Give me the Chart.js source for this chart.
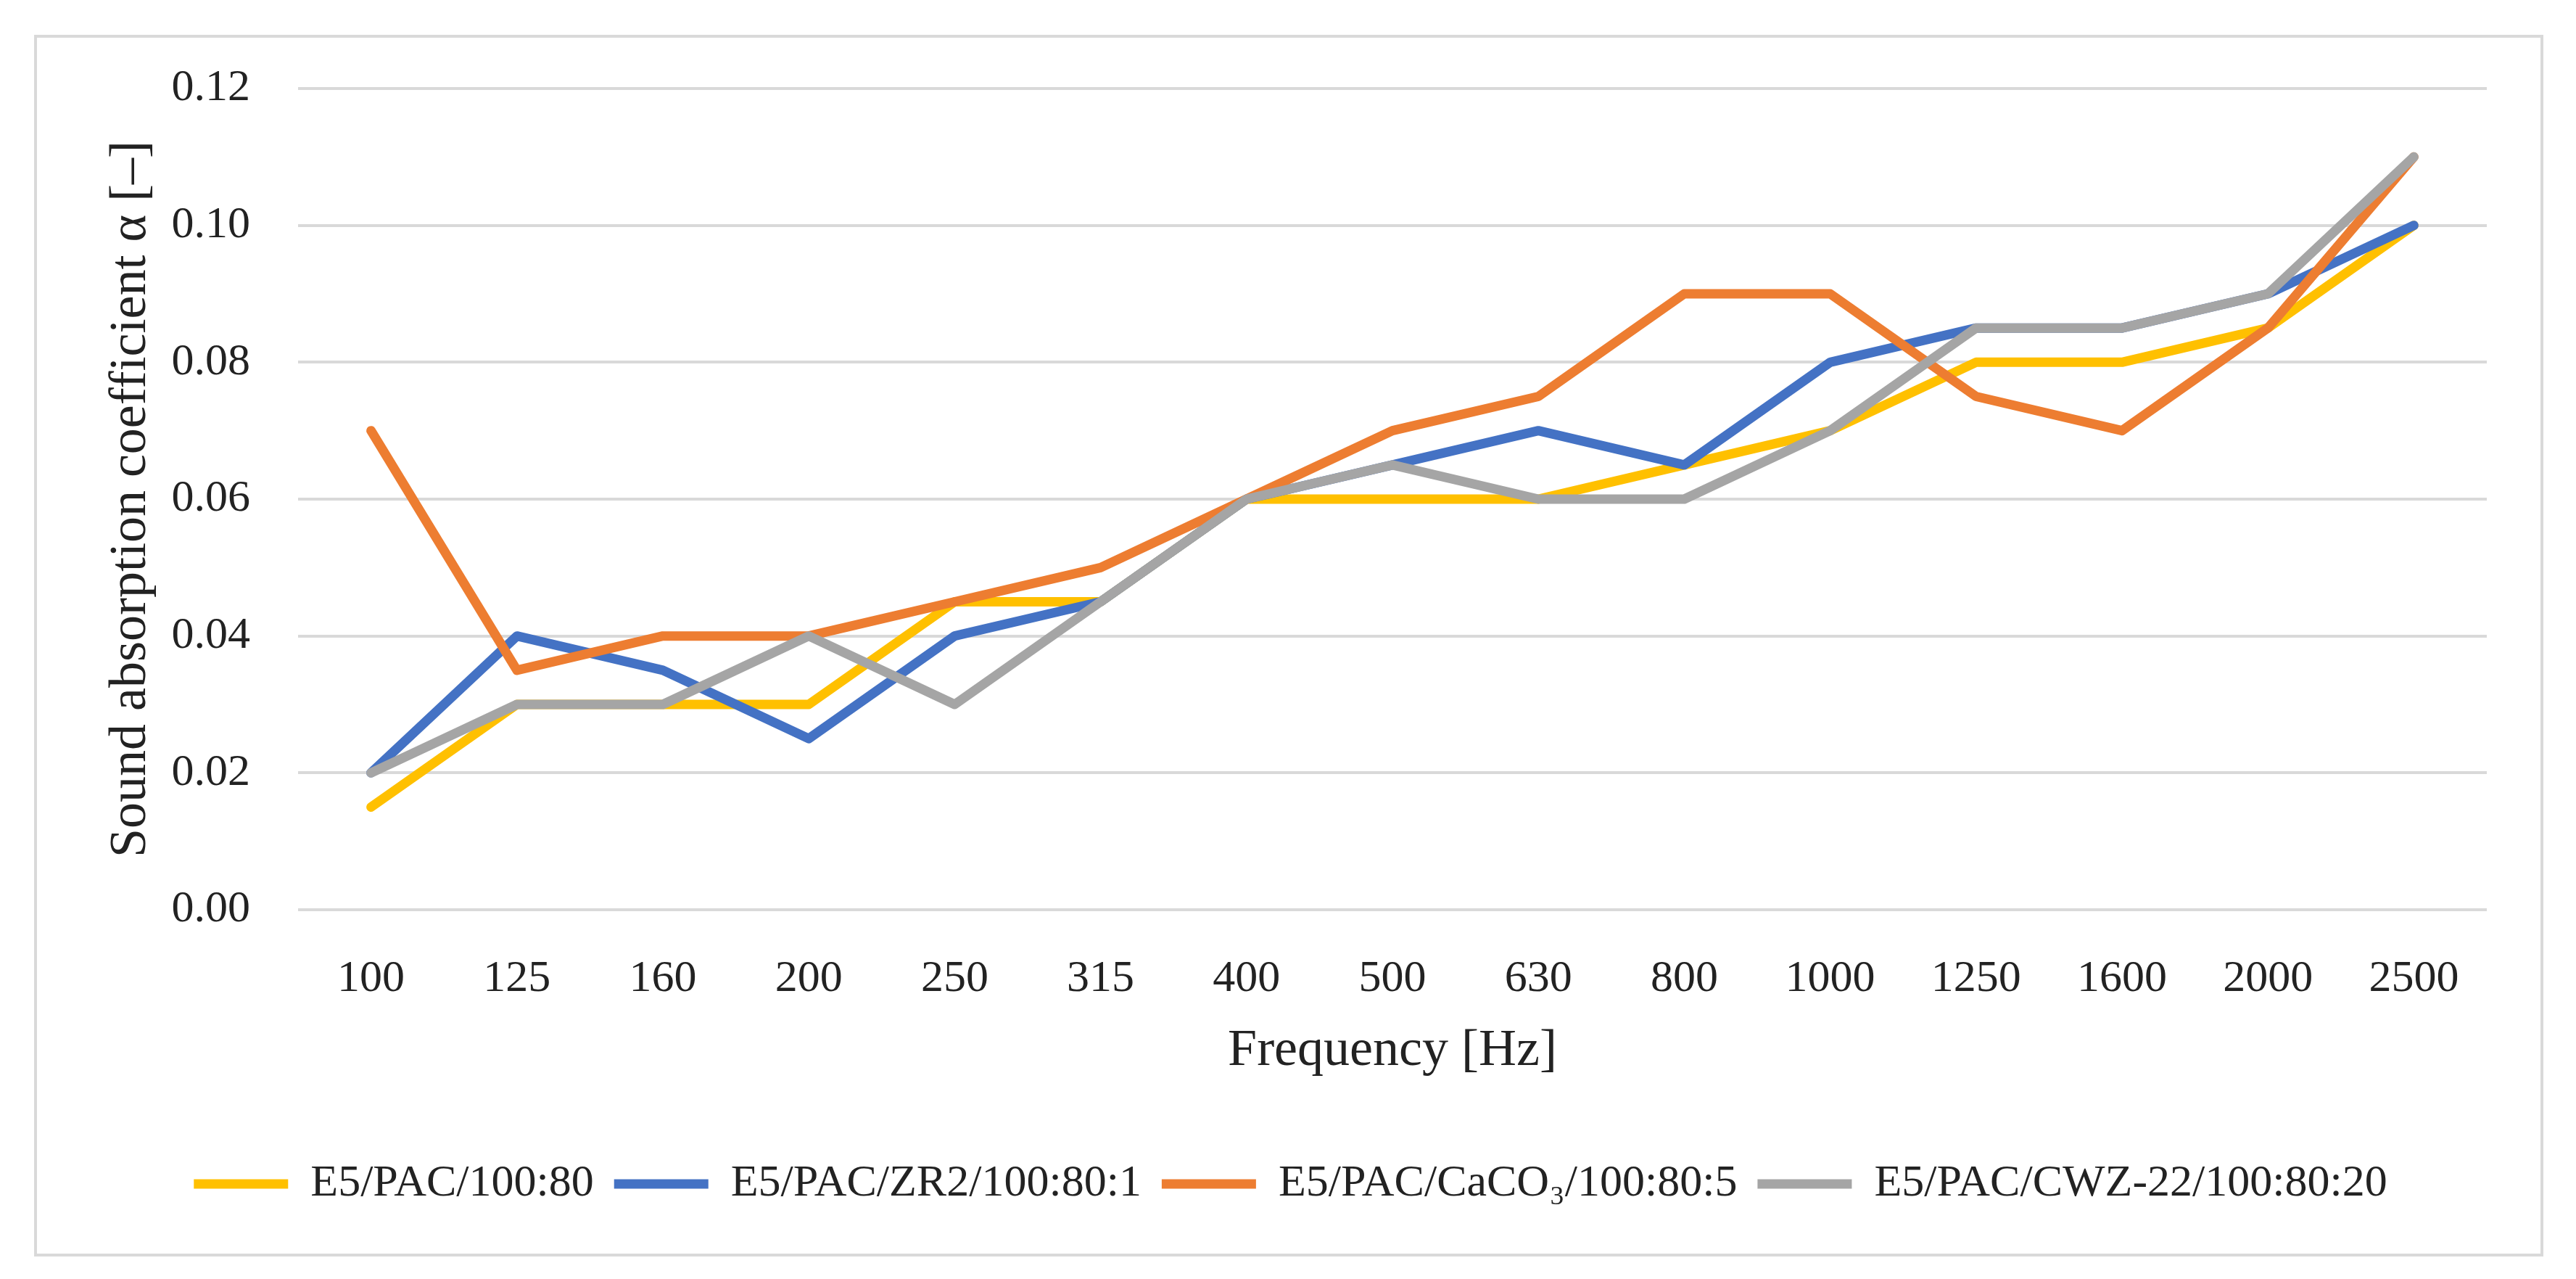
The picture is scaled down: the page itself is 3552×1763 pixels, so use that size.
<!DOCTYPE html>
<html>
<head>
<meta charset="utf-8">
<script src="https://cdn.jsdelivr.net/npm/chart.js@4.4.1/dist/chart.umd.min.js"></script>
<style>
  html, body { margin: 0; padding: 0; background: #ffffff; }
  #wrap { position: relative; width: 3552px; height: 1763px; }
</style>
</head>
<body>
<div id="wrap"><canvas id="absorptionChart"></canvas></div>
<script>
const frequencies = ["100", "125", "160", "200", "250", "315", "400", "500", "630", "800", "1000", "1250", "1600", "2000", "2500"];
const pac = [0.015, 0.03, 0.03, 0.03, 0.045, 0.045, 0.06, 0.06, 0.06, 0.065, 0.07, 0.08, 0.08, 0.085, 0.10];
const pacZr2 = [0.02, 0.04, 0.035, 0.025, 0.04, 0.045, 0.06, 0.065, 0.07, 0.065, 0.08, 0.085, 0.085, 0.09, 0.10];
const pacCaco3 = [0.07, 0.035, 0.04, 0.04, 0.045, 0.05, 0.06, 0.07, 0.075, 0.09, 0.09, 0.075, 0.07, 0.085, 0.11];
const pacCwz = [0.02, 0.03, 0.03, 0.04, 0.03, 0.045, 0.06, 0.065, 0.06, 0.06, 0.07, 0.085, 0.085, 0.09, 0.11];
const yTicks = [0, 0.02, 0.04, 0.06, 0.08, 0.10, 0.12];

const fontFamily = '"Liberation Serif", "Times New Roman", serif';
const textColor = "#222222";

// Light grey frame around the whole figure
const framePlugin = {
    id: "frame",
    beforeDraw(chart) {
        const ctx = chart.ctx;
        ctx.save();
        ctx.fillStyle = "#ffffff";
        ctx.fillRect(0, 0, chart.width, chart.height);
        ctx.strokeStyle = "#d9d9d9";
        ctx.lineWidth = 4;
        ctx.strokeRect(49, 50, 3456, 1680);
        ctx.restore();
    }
};

function makeSeries(label, data, color, order) {
    return {
        label: label,
        data: data,
        borderColor: color,
        backgroundColor: color,
        borderWidth: 13,
        borderJoinStyle: "round",
        borderCapStyle: "round",
        pointRadius: 0,
        pointHoverRadius: 0,
        tension: 0,
        fill: false,
        order: order
    };
}

const ctx = document.getElementById("absorptionChart").getContext("2d");
new Chart(ctx, {
    type: "line",
    data: {
        labels: frequencies,
        datasets: [
            makeSeries("E5/PAC/100:80", pac, "#ffc000", 4),
            makeSeries("E5/PAC/ZR2/100:80:1", pacZr2, "#4472c4", 3),
            makeSeries("E5/PAC/CaCO\u2083/100:80:5", pacCaco3, "#ed7d31", 2),
            makeSeries("E5/PAC/CWZ-22/100:80:20", pacCwz, "#a5a5a5", 1)
        ]
    },
    options: {
        responsive: true,
        maintainAspectRatio: false,
        devicePixelRatio: 1,
        animation: false,
        layout: { padding: { top: 122, left: 130, right: 123, bottom: 90 } },
        plugins: {
            tooltip: { enabled: false },
            legend: {
                position: "bottom",
                labels: {
                    usePointStyle: true,
                    pointStyle: "line",
                    pointStyleWidth: 130,
                    padding: 28,
                    color: textColor,
                    font: { family: fontFamily, size: 62 },
                    sort: (a, b) => a.datasetIndex - b.datasetIndex
                }
            }
        },
        scales: {
            x: {
                offset: true,
                grid: { display: false },
                border: { display: false },
                ticks: {
                    padding: 51,
                    color: textColor,
                    font: { family: fontFamily, size: 62 },
                    maxRotation: 0,
                    autoSkip: false
                },
                title: {
                    display: true,
                    text: "Frequency [Hz]",
                    color: textColor,
                    font: { family: fontFamily, size: 72 },
                    padding: { top: 0, bottom: 81 }
                },
                afterFit: (scale) => { scale.height = 319; }
            },
            y: {
                min: 0,
                max: 0.12,
                grid: { color: "#d9d9d9", lineWidth: 4, drawTicks: false },
                border: { display: false },
                afterBuildTicks: (scale) => { scale.ticks = yTicks.map(v => ({ value: v })); },
                ticks: {
                    padding: 66,
                    color: textColor,
                    font: { family: fontFamily, size: 62 },
                    callback: (value) => Number(value).toFixed(2)
                },
                title: {
                    display: true,
                    text: "Sound absorption coefficient \u03b1 [\u2013]",
                    color: textColor,
                    font: { family: fontFamily, size: 72 },
                    padding: { top: 8, bottom: 0 }
                },
                afterFit: (scale) => { scale.width = 281; }
            }
        }
    },
    plugins: [framePlugin]
});
</script>
</body>
</html>
